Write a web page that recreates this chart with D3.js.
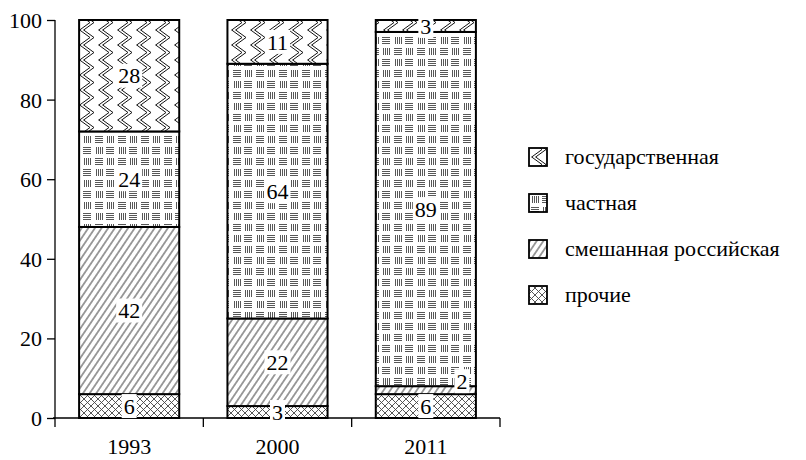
<!DOCTYPE html>
<html><head><meta charset="utf-8">
<script src="https://cdn.jsdelivr.net/npm/d3@7"></script>
<style>
body{margin:0;background:#fff;}
svg text{font-family:"Liberation Serif","Times New Roman",serif;fill:#000;}
</style></head>
<body><svg id="c" width="806" height="460"></svg>
<script>
const categories = ["1993", "2000", "2011"];
const seriesNames = ["прочие", "смешанная российская", "частная", "государственная"]; // bottom → top
const otherValues = [6, 3, 6];
const mixedValues = [42, 22, 2];
const privateValues = [24, 64, 89];
const stateValues = [28, 11, 3];
const yTickValues = [0, 20, 40, 60, 80, 100];
const legendOrder = ["государственная", "частная", "смешанная российская", "прочие"];

const seriesValues = [otherValues, mixedValues, privateValues, stateValues];
const patternIds = ["pOther", "pMixed", "pPrivate", "pState"];
const FS = 22;

const svg = d3.select("#c");
const defs = svg.append("defs");

// crosshatch
const pO = defs.append("pattern").attr("id","pOther").attr("patternUnits","userSpaceOnUse").attr("width",7).attr("height",7);
pO.append("rect").attr("width",7).attr("height",7).attr("fill","#fff");
pO.append("path").attr("d","M0,0L7,7M7,0L0,7").attr("stroke","#444").attr("stroke-width",0.9).attr("fill","none");
// diagonal hatch
const pM = defs.append("pattern").attr("id","pMixed").attr("patternUnits","userSpaceOnUse").attr("width",5.5).attr("height",10).attr("patternTransform","rotate(34)");
pM.append("rect").attr("width",5.5).attr("height",10).attr("fill","#fff");
pM.append("line").attr("x1",2.75).attr("x2",2.75).attr("y1",0).attr("y2",10).attr("stroke","#222").attr("stroke-width",0.9);
// basket weave
const pP = defs.append("pattern").attr("id","pPrivate").attr("patternUnits","userSpaceOnUse").attr("width",23).attr("height",22).attr("x",2).attr("y",3);
pP.append("rect").attr("width",23).attr("height",22).attr("fill","#fff");
function hBlock(g,x,y){for(let i=0;i<4;i++) g.append("line").attr("x1",x).attr("x2",x+8).attr("y1",y+i*2+0.5).attr("y2",y+i*2+0.5).attr("stroke","#444").attr("stroke-width",0.9);}
function vBlock(g,x,y){for(let i=0;i<4;i++) g.append("line").attr("x1",x+i*2+0.5).attr("x2",x+i*2+0.5).attr("y1",y).attr("y2",y+7).attr("stroke","#444").attr("stroke-width",0.9);}
hBlock(pP,1,1); vBlock(pP,13,1); vBlock(pP,2,12); hBlock(pP,12,12);
// zigzag chevrons
const pS = defs.append("pattern").attr("id","pState").attr("patternUnits","userSpaceOnUse").attr("width",19).attr("height",15).attr("x",2).attr("y",0);
pS.append("rect").attr("width",19).attr("height",15).attr("fill","#fff");
pS.append("path").attr("d","M1,-0.5L12,7.5L1,15.5M5,-0.5L16,7.5L5,15.5").attr("stroke","#111").attr("stroke-width",1).attr("fill","none");

const x = d3.scaleBand().domain(categories).range([55, 500]).padding(0);
const y = d3.scaleLinear().domain([0, 100]).range([418, 20]);
const barW = x.bandwidth() * 0.675;

const rows = categories.map((c, i) => {
  const o = {cat: c};
  seriesNames.forEach((s, j) => o[s] = seriesValues[j][i]);
  return o;
});
const stack = d3.stack().keys(seriesNames)(rows);

// axes
const yAxis = svg.append("g").attr("transform", `translate(${x.range()[0]},0)`)
  .call(d3.axisLeft(y).tickValues(yTickValues).tickSize(8).tickPadding(5));
yAxis.select(".domain").attr("d", `M0,${y(100)}V${y(0)}`).attr("stroke","#000").attr("stroke-width",1.3);
yAxis.selectAll(".tick line").attr("stroke","#000").attr("stroke-width",1.3);
yAxis.selectAll("text").attr("font-size",FS).attr("dy","0.34em");

const xg = svg.append("g").attr("transform", `translate(0,${y(0)})`);
xg.append("line").attr("x1", x.range()[0] - 2).attr("x2", x.range()[1]).attr("stroke","#000").attr("stroke-width",1.3);
const bounds = categories.map(c => x(c)).concat([x.range()[1]]);
xg.selectAll("line.tk").data(bounds).join("line").attr("class","tk")
  .attr("x1", d => d).attr("x2", d => d).attr("y1", 0).attr("y2", 9).attr("stroke","#000").attr("stroke-width",1.3);
xg.selectAll("text").data(categories).join("text")
  .attr("x", d => x(d) + x.bandwidth() / 2).attr("y", 36)
  .attr("text-anchor","middle").attr("font-size",FS).text(d => d);

// bars
const bx = c => x(c) + (x.bandwidth() - barW) / 2;
stack.forEach((layer, j) => {
  svg.append("g").selectAll("rect").data(layer).join("rect")
    .attr("x", d => bx(d.data.cat)).attr("width", barW)
    .attr("y", d => y(d[1])).attr("height", d => y(d[0]) - y(d[1]))
    .attr("fill", `url(#${patternIds[j]})`)
    .attr("stroke","#000").attr("stroke-width",2);
});

// labels
const lab = svg.append("g");
stack.forEach((layer) => {
  layer.forEach(d => {
    const v = d[1] - d[0];
    let lx = bx(d.data.cat) + barW / 2, ly = (y(d[0]) + y(d[1])) / 2;
    if (v < 3) { lx = bx(d.data.cat) + barW - 14; ly = y(d[1]) - 5; }
    const g = lab.append("g");
    const t = g.append("text").attr("x", lx).attr("y", ly).attr("dy","0.35em")
      .attr("text-anchor","middle").attr("font-size",FS).text(v);
    const bb = t.node().getBBox();
    g.insert("rect","text").attr("x", bb.x - 2).attr("y", ly - 12).attr("width", bb.width + 4).attr("height", 24).attr("fill","#fff");
  });
});

// legend
const leg = svg.append("g").attr("transform","translate(528,0)");
const legY = [157, 203, 249, 295];
legendOrder.forEach((name, i) => {
  const j = seriesNames.indexOf(name);
  const g = leg.append("g").attr("transform", `translate(0,${legY[i]})`);
  g.append("rect").attr("x", 1).attr("y", -9).attr("width", 18).attr("height", 18)
    .attr("fill", `url(#${patternIds[j]})`).attr("stroke","#000").attr("stroke-width",1.8);
  g.append("text").attr("x", 37).attr("y", 0).attr("dy","0.3em").attr("font-size",FS).text(name);
});
</script></body></html>
